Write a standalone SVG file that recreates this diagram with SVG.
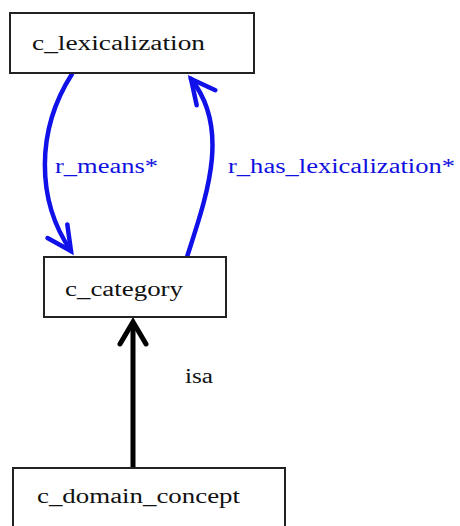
<svg xmlns="http://www.w3.org/2000/svg" width="460" height="526" viewBox="0 0 460 526">
<style>
.box{fill:#fff;stroke:#222;stroke-width:2}
.t{font-family:'Liberation Serif','DejaVu Serif','Times New Roman',serif;font-size:20px;fill:#111}
.lb{font-family:'Liberation Serif','DejaVu Serif','Times New Roman',serif;font-size:20px;fill:#1010e0}
.blue{fill:none;stroke:#1010e8;stroke-width:4.5;stroke-linecap:round}
.blk{fill:none;stroke:#000;stroke-width:5}
</style>
<defs>
<marker id="hb" markerUnits="userSpaceOnUse" markerWidth="40" markerHeight="40" viewBox="-30 -20 40 40" refX="0" refY="0" orient="auto">
<path d="M-24,-12 L0,0 L-24,12" fill="none" stroke="#1010e8" stroke-width="4.5" stroke-linecap="round"/>
</marker>
<marker id="hk" markerUnits="userSpaceOnUse" markerWidth="40" markerHeight="40" viewBox="-30 -20 40 40" refX="0" refY="0" orient="auto">
<path d="M-22,-13 L0,0 L-22,13" fill="none" stroke="#000" stroke-width="5" stroke-linecap="round"/>
</marker>
</defs>
<rect width="460" height="526" fill="#fff"/>
<g id="connectors">
<path class="blue" d="M72,74 C36,130 36,200 71,251" marker-end="url(#hb)"/>
<path class="blue" d="M187,257 C205,200 232,130 191,79" marker-end="url(#hb)"/>
<path class="blk" d="M133,467 L133,322" marker-end="url(#hk)"/>
<text class="lb" x="55" y="173" textLength="103" lengthAdjust="spacingAndGlyphs">r_means*</text>
<text class="lb" x="228" y="173" textLength="227" lengthAdjust="spacingAndGlyphs">r_has_lexicalization*</text>
<text class="t" x="185" y="383" textLength="28" lengthAdjust="spacingAndGlyphs">isa</text>
</g>
<g id="c_lexicalization">
<rect class="box" x="10" y="13" width="244" height="60"/>
<text class="t" x="32" y="50" textLength="173" lengthAdjust="spacingAndGlyphs">c_lexicalization</text>
</g>
<g id="c_category">
<rect class="box" x="44" y="257" width="182" height="60"/>
<text class="t" x="65" y="296" textLength="118" lengthAdjust="spacingAndGlyphs">c_category</text>
</g>
<g id="c_domain_concept">
<rect class="box" x="13" y="468" width="272" height="80"/>
<text class="t" x="37" y="503" textLength="203" lengthAdjust="spacingAndGlyphs">c_domain_concept</text>
</g>
</svg>
